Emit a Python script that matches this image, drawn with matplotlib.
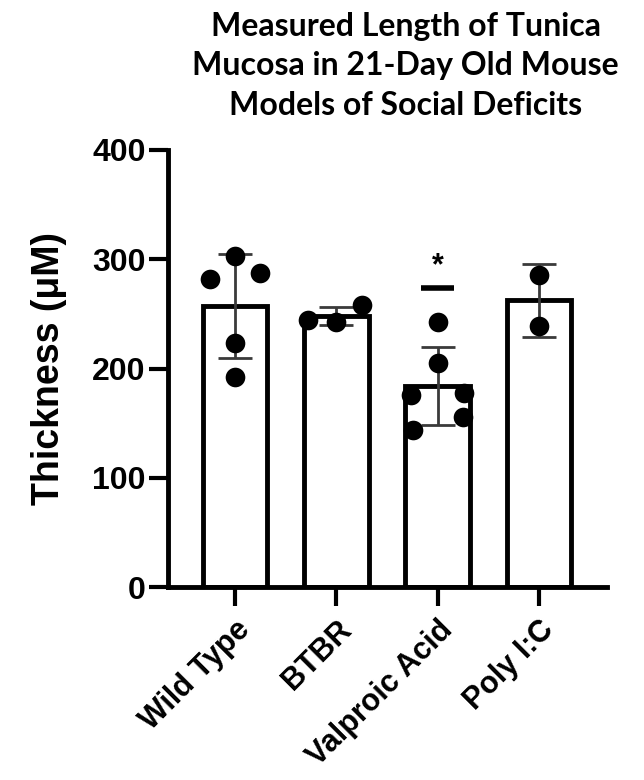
import numpy as np
import matplotlib
matplotlib.use("Agg")
import matplotlib.pyplot as plt

# data (individual animals)
categories = ['Wild Type', 'BTBR', 'Valproic Acid', 'Poly I:C']
wild_type = [303, 282, 287, 223, 192]
btbr = [244, 243, 258]
valproic = [243, 205, 176, 178, 156, 144]
poly_ic = [286, 239]
groups = [wild_type, btbr, valproic, poly_ic]

# horizontal spread of the dots inside each bar
jitter = [[0, -0.25, 0.25, 0, 0],
          [-0.28, 0, 0.25],
          [0, 0, -0.26, 0.26, 0.25, -0.24],
          [0, 0]]

yticks = [0, 100, 200, 300, 400]
star_y = 274

plt.rcParams['font.family'] = ['Liberation Sans', 'DejaVu Sans']
plt.rcParams['font.weight'] = 'bold'

fig = plt.figure(figsize=(6.44, 7.8), dpi=100)
ax = fig.add_axes([0.261, 0.2474, 0.6815, 0.5603])

x = np.arange(len(categories))
means = [np.mean(g) for g in groups]
sds = [np.std(g, ddof=1) for g in groups]

ax.bar(x, means, width=0.64, color='white', edgecolor='black', linewidth=3.5, zorder=2)
ax.errorbar(x, means, yerr=sds, fmt='none', ecolor='#3a3a3a', elinewidth=2,
            capsize=12, capthick=2, zorder=3)
for i, g in enumerate(groups):
    ax.scatter(x[i] + np.array(jitter[i]), g, s=200, color='black', zorder=4, linewidths=0)

# significance mark over Valproic Acid
ax.plot([2 - 0.16, 2 + 0.16], [star_y, star_y], color='black', lw=4, solid_capstyle='butt', zorder=4)
ax.text(2, star_y + 6, '*', ha='center', va='bottom', fontsize=22, fontweight='bold')

ax.set_xlim(-0.66, 3.67)
ax.set_ylim(0, 400)
ax.set_yticks(yticks)
ax.set_xticks(x)
ax.set_xticklabels(categories, rotation=45, ha='right', rotation_mode='anchor', fontsize=22)
ax.tick_params(axis='y', labelsize=23, width=3, length=14, pad=2)
ax.tick_params(axis='x', width=3, length=14, pad=6)
for s in ['top', 'right']:
    ax.spines[s].set_visible(False)
for s in ['left', 'bottom']:
    ax.spines[s].set_linewidth(3.5)

ax.set_ylabel('Thickness (μM)', fontsize=27, fontweight='bold', labelpad=18)

fig.text(0.63, 0.985, 'Measured Length of Tunica\nMucosa in 21-Day Old Mouse\nModels of Social Deficits',
         ha='center', va='top', fontsize=23, fontweight='bold', family='Lato', linespacing=1.45)

fig.savefig('out.png', dpi=100)
